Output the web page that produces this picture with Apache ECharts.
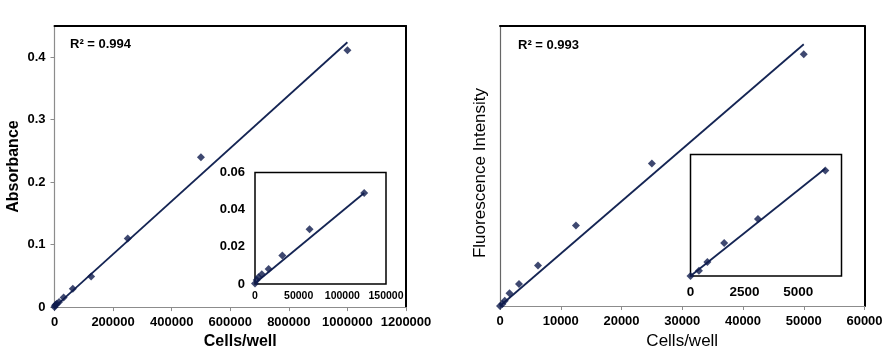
<!DOCTYPE html>
<html>
<head>
<meta charset="utf-8">
<script src="https://cdn.jsdelivr.net/npm/echarts@6/dist/echarts.min.js"></script>
<style>
html,body{margin:0;padding:0;background:#fff;}
#c{width:892px;height:355px;}
</style>
</head>
<body>
<div id="c"></div>
<script>
// ---- Left panel: Absorbance vs cells/well ----
const absCells = [0, 1953, 3906, 7812, 15625, 31250, 62500, 125000, 250000, 500000, 1000000];
const absValues = [0.0003, 0.0022, 0.0036, 0.0052, 0.0081, 0.0153, 0.0295, 0.049, 0.11, 0.24, 0.411];
const absTrendX = [0, 1000000];
const absTrendY = [0.0, 0.424];
const absInsetMaxCells = 125000;
const absInsetTrendX = [0, 125000];
const absInsetTrendY = [0.0004, 0.049];
const absR2 = 'R² = 0.994';

// ---- Right panel: Fluorescence vs cells/well ----
const flCells = [0, 390, 781, 1562, 3125, 6250, 12500, 25000, 50000];
const flValues = [0, 44, 115, 272, 470, 868, 1724, 3054, 5394];
const flTrendX = [0, 50000];
const flTrendY = [0, 5608];
const flInsetMaxCells = 6250;
const flInsetTrendX = [0, 6250];
const flInsetTrendY = [0, 885];
const flR2 = 'R² = 0.993';

const FONT = "'Liberation Sans', Arial, sans-serif";
const NAVY = '#0e1a4c';
const LINE = '#152554';

function pts(xs, ys, maxX) {
  const out = [];
  for (let i = 0; i < xs.length; i++) {
    if (maxX === undefined || xs[i] <= maxX) out.push([xs[i], ys[i]]);
  }
  return out;
}
const plain = (v) => String(+v.toPrecision(10));

const chart = echarts.init(document.getElementById('c'), null, {renderer: 'canvas'});

const boldLbl = (size, extra) => Object.assign({color: '#000', fontFamily: FONT, fontWeight: 'bold', fontSize: size, formatter: plain}, extra || {});

const option = {
  animation: false,
  backgroundColor: '#fff',
  grid: [
    {left: 54.5, top: 26, width: 351.5, height: 282},
    {left: 255, top: 172.5, width: 131, height: 111.5, show: true, backgroundColor: '#fff', borderColor: '#000', borderWidth: 1.5},
    {left: 500, top: 26, width: 364.5, height: 280},
    {left: 690.5, top: 154.5, width: 151, height: 121.5, show: true, backgroundColor: '#fff', borderColor: '#000', borderWidth: 1.5}
  ],
  xAxis: [
    {gridIndex: 0, type: 'value', min: 0, max: 1200000, interval: 200000,
     axisLine: {onZero: false, lineStyle: {color: '#8c8c8c', width: 1.2}},
     axisTick: {show: true, length: 4, lineStyle: {color: '#8c8c8c'}},
     splitLine: {show: false},
     axisLabel: boldLbl(13, {margin: 9}),
     name: 'Cells/well', nameLocation: 'middle', nameGap: 24,
     nameTextStyle: {color: '#000', fontFamily: FONT, fontWeight: 'bold', fontSize: 16, padding: [0, 0, 0, 20]}},
    {gridIndex: 1, type: 'value', min: 0, max: 150000, interval: 50000,
     axisLine: {show: false}, axisTick: {show: false}, splitLine: {show: false},
     axisLabel: boldLbl(10.5, {margin: 7})},
    {gridIndex: 2, type: 'value', min: 0, max: 60000, interval: 10000,
     axisLine: {onZero: false, lineStyle: {color: '#8c8c8c', width: 1.2}},
     axisTick: {show: true, length: 4, lineStyle: {color: '#8c8c8c'}},
     splitLine: {show: false},
     axisLabel: boldLbl(13, {margin: 9}),
     name: 'Cells/well', nameLocation: 'middle', nameGap: 27,
     nameTextStyle: {color: '#000', fontFamily: FONT, fontWeight: 'normal', fontSize: 17}},
    {gridIndex: 3, type: 'value', min: 0, max: 7000, interval: 2500,
     axisLine: {show: false}, axisTick: {show: false}, splitLine: {show: false},
     axisLabel: boldLbl(13.5, {margin: 9, showMaxLabel: false})},
    {gridIndex: 0, type: 'value', position: 'top', min: 0, max: 1200000,
     axisLine: {onZero: false, lineStyle: {color: '#000', width: 2}}, axisTick: {show: false},
     axisLabel: {show: false}, splitLine: {show: false}},
    {gridIndex: 2, type: 'value', position: 'top', min: 0, max: 60000,
     axisLine: {onZero: false, lineStyle: {color: '#000', width: 2}}, axisTick: {show: false},
     axisLabel: {show: false}, splitLine: {show: false}}
  ],
  yAxis: [
    {gridIndex: 0, type: 'value', min: 0, max: 0.45, interval: 0.1,
     axisLine: {show: true, onZero: false, lineStyle: {color: '#8c8c8c', width: 1.2}},
     axisTick: {show: true, length: 4, lineStyle: {color: '#8c8c8c'}},
     splitLine: {show: false},
     axisLabel: boldLbl(13, {margin: 9, showMaxLabel: false}),
     name: 'Absorbance', nameLocation: 'middle', nameGap: 33,
     nameTextStyle: {color: '#000', fontFamily: FONT, fontWeight: 'bold', fontSize: 16}},
    {gridIndex: 1, type: 'value', min: 0, max: 0.06, interval: 0.02,
     axisLine: {show: false}, axisTick: {show: false}, splitLine: {show: false},
     axisLabel: boldLbl(13, {margin: 10})},
    {gridIndex: 2, type: 'value', min: 0, max: 6000,
     axisLine: {show: true, onZero: false, lineStyle: {color: '#666', width: 1.2}},
     axisTick: {show: false}, splitLine: {show: false}, axisLabel: {show: false},
     name: 'Fluorescence Intensity', nameLocation: 'middle', nameGap: 11,
     nameTextStyle: {color: '#000', fontFamily: FONT, fontWeight: 'normal', fontSize: 17, padding: [0, 14, 0, 0]}},
    {gridIndex: 3, type: 'value', min: 0, max: 1000,
     axisLine: {show: false}, axisTick: {show: false}, splitLine: {show: false}, axisLabel: {show: false}},
    {gridIndex: 0, type: 'value', position: 'right', min: 0, max: 0.45,
     axisLine: {show: true, onZero: false, lineStyle: {color: '#000', width: 2}}, axisTick: {show: false},
     axisLabel: {show: false}, splitLine: {show: false}},
    {gridIndex: 2, type: 'value', position: 'right', min: 0, max: 6000,
     axisLine: {show: true, onZero: false, lineStyle: {color: '#000', width: 2}}, axisTick: {show: false},
     axisLabel: {show: false}, splitLine: {show: false}}
  ],
  series: [
    {type: 'line', xAxisIndex: 0, yAxisIndex: 0, data: pts(absTrendX, absTrendY), showSymbol: false,
     lineStyle: {color: LINE, width: 1.8}, silent: true, z: 2},
    {type: 'scatter', xAxisIndex: 0, yAxisIndex: 0, data: pts(absCells, absValues), symbol: 'diamond', symbolSize: 8,
     itemStyle: {color: NAVY}, z: 3},
    {type: 'line', xAxisIndex: 1, yAxisIndex: 1, data: pts(absInsetTrendX, absInsetTrendY), showSymbol: false,
     lineStyle: {color: LINE, width: 1.8}, silent: true, z: 2},
    {type: 'scatter', xAxisIndex: 1, yAxisIndex: 1, data: pts(absCells, absValues, absInsetMaxCells), symbol: 'diamond', symbolSize: 8,
     itemStyle: {color: NAVY}, z: 3},
    {type: 'line', xAxisIndex: 2, yAxisIndex: 2, data: pts(flTrendX, flTrendY), showSymbol: false,
     lineStyle: {color: LINE, width: 1.8}, silent: true, z: 2},
    {type: 'scatter', xAxisIndex: 2, yAxisIndex: 2, data: pts(flCells, flValues), symbol: 'diamond', symbolSize: 8,
     itemStyle: {color: NAVY}, z: 3},
    {type: 'line', xAxisIndex: 3, yAxisIndex: 3, data: pts(flInsetTrendX, flInsetTrendY), showSymbol: false,
     lineStyle: {color: LINE, width: 1.8}, silent: true, z: 2},
    {type: 'scatter', xAxisIndex: 3, yAxisIndex: 3, data: pts(flCells, flValues, flInsetMaxCells), symbol: 'diamond', symbolSize: 8,
     itemStyle: {color: NAVY}, z: 3}
  ],
  graphic: [
    {type: 'text', left: 70, top: 38, style: {text: absR2, fill: '#000', font: 'bold 13px ' + FONT}},
    {type: 'text', left: 518, top: 39, style: {text: flR2, fill: '#000', font: 'bold 13px ' + FONT}}
  ]
};
chart.setOption(option);
</script>
</body>
</html>
